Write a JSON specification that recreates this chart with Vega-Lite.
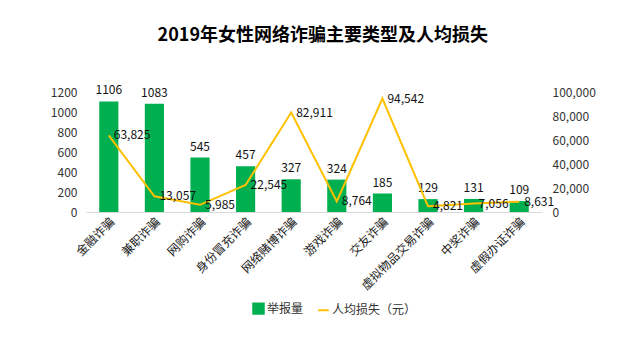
{
  "$schema": "https://vega.github.io/schema/vega-lite/v6.json",
  "width": 456,
  "height": 120,
  "padding": {"left": 50, "top": 27, "right": 5, "bottom": 5},
  "config": {
    "view": {"stroke": null},
    "font": "Noto Sans CJK SC",
    "axis": {"labelFont": "Noto Sans CJK SC", "labelColor": "#333333", "labelFontSize": 12, "labelOverlap": false}
  },
  "title": {
    "text": "2019年女性网络诈骗主要类型及人均损失",
    "fontSize": 18,
    "fontWeight": "bold",
    "color": "#000000",
    "offset": 39,
    "anchor": "middle",
    "frame": "bounds"
  },
  "data": {
    "values": [
      {"type": "金融诈骗", "count": 1106, "loss": 63825},
      {"type": "兼职诈骗", "count": 1083, "loss": 13057},
      {"type": "网购诈骗", "count": 545, "loss": 5985},
      {"type": "身份冒充诈骗", "count": 457, "loss": 22545},
      {"type": "网络赌博诈骗", "count": 327, "loss": 82911},
      {"type": "游戏诈骗", "count": 324, "loss": 8764},
      {"type": "交友诈骗", "count": 185, "loss": 94542},
      {"type": "虚拟物品交易诈骗", "count": 129, "loss": 4821},
      {"type": "中奖诈骗", "count": 131, "loss": 7056},
      {"type": "虚假办证诈骗", "count": 109, "loss": 8631}
    ]
  },
  "encoding": {
    "x": {
      "field": "type",
      "type": "nominal",
      "sort": null,
      "title": null,
      "scale": {"paddingInner": 0.58, "paddingOuter": 0.29},
      "axis": {
        "labelAngle": -45,
        "ticks": false,
        "domainColor": "#D9D9D9",
        "labelPadding": 4,
        "labelColor": "#222222",
        "labelOverlap": false
      }
    }
  },
  "layer": [
    {
      "encoding": {
        "y": {
          "field": "count",
          "type": "quantitative",
          "title": null,
          "scale": {"domain": [0, 1200]},
          "axis": {"values": [0, 200, 400, 600, 800, 1000, 1200], "format": "d", "domain": false, "ticks": false, "grid": false, "labelPadding": 9, "labelOverlap": false}
        }
      },
      "layer": [
        {
          "mark": {"type": "bar", "color": "#00B050"},
          "encoding": {
            "color": {
              "datum": "举报量",
              "type": "nominal",
              "scale": {"domain": ["举报量", "人均损失（元）"], "range": ["#00B050", "#FFC000"]},
              "legend": {
                "orient": "none",
                "legendX": 166,
                "legendY": 210,
                "direction": "horizontal",
                "title": null,
                "labelFontSize": 12,
                "labelColor": "#333333",
                "labelOffset": 2,
                "columnPadding": 10,
                "symbolSize": 110,
                "encode": {
                  "symbols": {
                    "update": {
                      "shape": {"signal": "datum.value == '举报量' ? 'square' : 'stroke'"},
                      "fill": {"signal": "datum.value == '举报量' ? '#00B050' : 'transparent'"},
                      "stroke": {"signal": "datum.value == '举报量' ? 'transparent' : '#FFC000'"},
                      "strokeWidth": {"value": 2}
                    }
                  }
                }
              }
            }
          }
        },
        {
          "mark": {"type": "text", "baseline": "bottom", "dy": -4, "fontSize": 12, "color": "#111111"},
          "encoding": {
            "text": {"field": "count", "type": "quantitative", "format": "d"}
          }
        }
      ]
    },
    {
      "encoding": {
        "y": {
          "field": "loss",
          "type": "quantitative",
          "title": null,
          "scale": {"domain": [0, 100000]},
          "axis": {"orient": "right", "format": ",d", "values": [0, 20000, 40000, 60000, 80000, 100000], "domain": false, "ticks": false, "grid": false, "labelPadding": 10, "labelOverlap": false}
        }
      },
      "layer": [
        {
          "mark": {"type": "line", "color": "#FFC000", "strokeWidth": 2},
          "encoding": {
            "color": {"datum": "人均损失（元）", "type": "nominal"}
          }
        },
        {
          "mark": {"type": "text", "align": "left", "baseline": "middle", "dx": 5, "fontSize": 12, "color": "#111111"},
          "encoding": {
            "text": {"field": "loss", "type": "quantitative", "format": ",d"}
          }
        }
      ]
    }
  ],
  "resolve": {"scale": {"y": "independent"}}
}
